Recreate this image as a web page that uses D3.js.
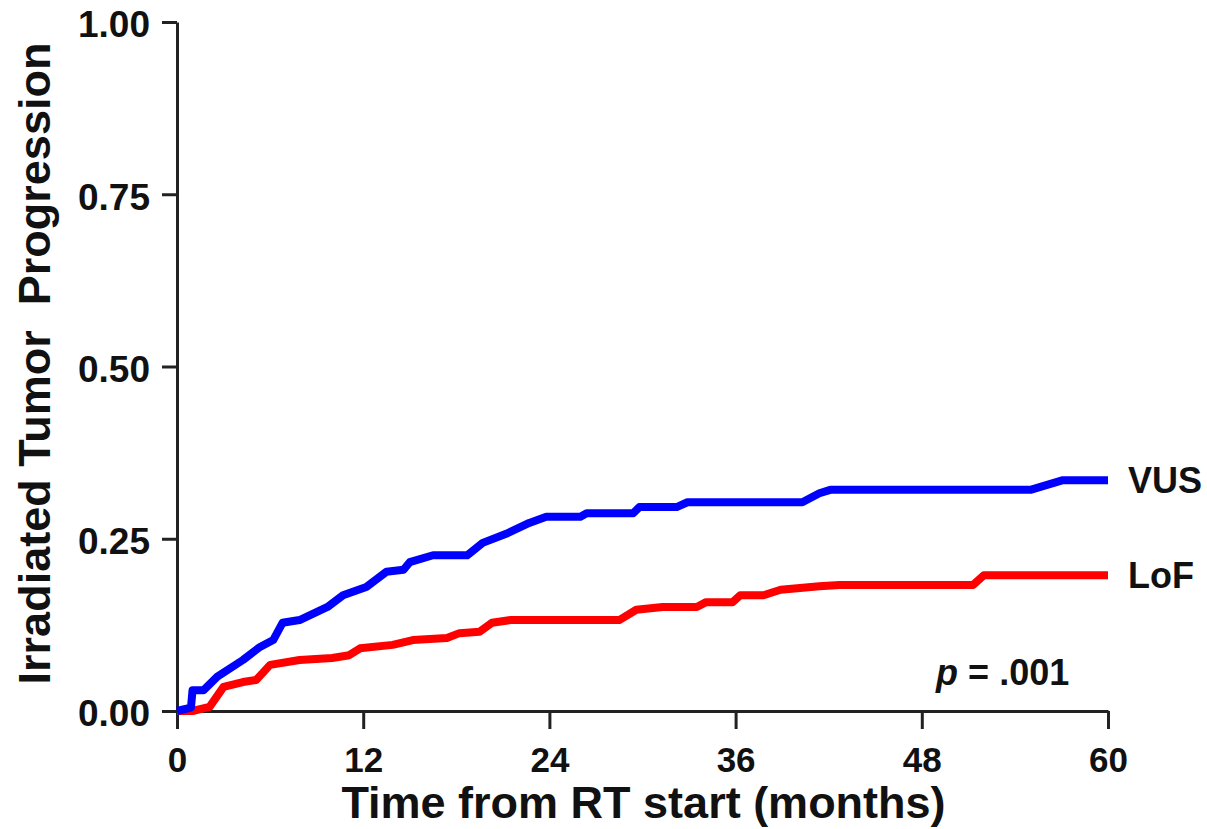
<!DOCTYPE html>
<html>
<head>
<meta charset="utf-8">
<script src="https://cdn.jsdelivr.net/npm/d3@7"></script>
<style>
  body { margin: 0; background: #fff; }
  svg text { font-family: "Liberation Sans", Arial, sans-serif; font-weight: bold; fill: #111; }
</style>
</head>
<body>
<svg id="chart" width="1207" height="829"></svg>
<script>
// Cumulative incidence (months, proportion)
const vusMonths = [0, 0.9, 1.0, 1.7, 2.6, 4.25, 5.35, 6.2, 6.8, 7.9, 9.7, 10.7, 12.2, 13.5, 14.6, 15, 16.5, 18.7, 19.7, 21.3, 22.7, 23.8, 26, 26.4, 29.4, 29.8, 32.2, 32.9, 40.3, 41.4, 42.1, 55, 57.1, 60]
const vusValues = [0, 0.005, 0.03, 0.03, 0.05, 0.074, 0.093, 0.103, 0.128, 0.132, 0.151, 0.168, 0.18, 0.202, 0.205, 0.216, 0.226, 0.226, 0.244, 0.258, 0.273, 0.282, 0.282, 0.287, 0.287, 0.296, 0.296, 0.303, 0.303, 0.316, 0.321, 0.321, 0.335, 0.335]

const lofMonths = [0, 1.0, 2.1, 3.0, 4.25, 5.1, 6.0, 7.9, 10, 11.1, 11.8, 13.9, 15.2, 17.4, 18.2, 19.5, 20.3, 21.5, 28.5, 29.6, 31.3, 33.5, 34.1, 35.8, 36.3, 37.8, 38.9, 41.4, 42.7, 51.3, 52, 60]
const lofValues = [0, 0, 0.006, 0.035, 0.042, 0.045, 0.067, 0.074, 0.077, 0.081, 0.091, 0.096, 0.103, 0.106, 0.113, 0.115, 0.128, 0.132, 0.132, 0.147, 0.151, 0.151, 0.158, 0.158, 0.168, 0.168, 0.176, 0.181, 0.183, 0.183, 0.197, 0.197]

const xTicks = [0, 12, 24, 36, 48, 60]
const yTicks = [0, 0.25, 0.5, 0.75, 1]
const seriesNames = ["LoF", "VUS"]
const seriesColors = ["#ff0000", "#0000ff"]
const pLabel = ".001"

const svg = d3.select("#chart")
const margin = {top: 22, right: 99, bottom: 118, left: 177}
const width = 1207 - margin.left - margin.right
const height = 829 - margin.top - margin.bottom

const g = svg.append("g")
    .attr("transform", `translate(${margin.left},${margin.top})`)

const x = d3.scaleLinear().domain([0, 60]).range([0, width])
const y = d3.scaleLinear().domain([0, 1]).range([height, 0])

// axes
const xAxis = g.append("g")
    .attr("transform", `translate(0,${height})`)
    .call(d3.axisBottom(x).tickValues(xTicks).tickSize(18).tickPadding(18).tickSizeOuter(0))
xAxis.selectAll("text").style("font-size", "35px")

const yAxis = g.append("g")
    .call(d3.axisLeft(y).tickValues(yTicks).tickFormat(d3.format(".2f")).tickSize(15).tickPadding(12).tickSizeOuter(0))
yAxis.selectAll("text").style("font-size", "37px").attr("dy", "0.4em")

g.selectAll(".domain, .tick line").attr("stroke", "#222").attr("stroke-width", 3)

// curves
const line = d3.line()
    .x(d => x(d[0]))
    .y(d => y(d[1]))

const series = [
  d3.zip(lofMonths, lofValues),
  d3.zip(vusMonths, vusValues)
]

g.selectAll(".curve")
  .data(series)
  .enter()
  .append("path")
    .classed("curve", true)
    .attr("d", line)
    .attr("fill", "none")
    .attr("stroke", (d, i) => seriesColors[i])
    .attr("stroke-width", 8)
    .attr("stroke-linejoin", "round")

// end labels
g.selectAll(".endLabel")
  .data(series)
  .enter()
  .append("text")
    .classed("endLabel", true)
    .attr("x", width + 20)
    .attr("y", d => y(d[d.length - 1][1]))
    .attr("dy", "0.36em")
    .style("font-size", "36px")
    .text((d, i) => seriesNames[i])

// p value
const p = g.append("text")
    .attr("x", x(57.5))
    .attr("y", height - 26)
    .attr("text-anchor", "end")
    .style("font-size", "36px")
p.append("tspan").style("font-style", "italic").text("p")
p.append("tspan").text(" = " + pLabel)

// axis titles
g.append("text")
    .attr("x", width / 2 + 1)
    .attr("y", height + 107)
    .attr("text-anchor", "middle")
    .style("font-size", "45px")
    .text("Time from RT start (months)")

g.append("text")
    .attr("transform", `translate(${-127},${height / 2 - 3}) rotate(-90)`)
    .attr("text-anchor", "middle")
    .style("font-size", "45px")
    .style("white-space", "pre")
    .attr("xml:space", "preserve")
    .text("Irradiated Tumor  Progression")
</script>
</body>
</html>
